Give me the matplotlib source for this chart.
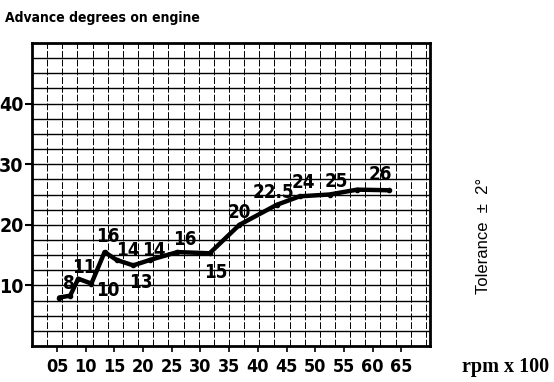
import matplotlib.pyplot as plt
import numpy as np

# Zündverstellung: Drehzahl (x 100 U/min) gegen Vorzündung in Grad
rpm = [5.4, 7.3, 8.7, 11.0, 13.3, 15.4, 18.3, 21.2, 26.0, 31.6, 36.8, 43.3, 47.3, 52.5, 57.3, 62.9]
advance = [8.0, 8.3, 11.1, 10.3, 15.5, 14.2, 13.3, 14.2, 15.5, 15.3, 20.0, 23.3, 24.7, 25.0, 25.8, 25.7]

# Beschriftete Werte und ihre Lage im Diagramm
point_labels = ['8', '11', '10', '16', '14', '13', '14', '16', '15', '20', '22.5', '24', '25', '26']
label_x = [7.0, 9.6, 13.8, 13.8, 17.3, 19.6, 21.9, 27.3, 32.7, 36.7, 42.8, 48.0, 53.6, 61.4]
label_y = [10.3, 13.0, 9.2, 18.0, 15.8, 10.5, 15.8, 17.5, 12.2, 22.0, 25.3, 27.0, 27.2, 28.3]

x_ticks = [5, 10, 15, 20, 25, 30, 35, 40, 45, 50, 55, 60, 65]
x_ticklabels = ['05', '10', '15', '20', '25', '30', '35', '40', '45', '50', '55', '60', '65']
y_ticks = [10, 20, 30, 40]

cond = dict(family='DejaVu Sans', fontstretch='condensed', fontweight='bold')

fig = plt.figure(figsize=(5.54, 3.82), dpi=100)
ax = fig.add_axes([32 / 554, 36 / 382, 398 / 554, 303 / 382])

xmin, xmax = 0.65, 70.0
ax.set_xlim(xmin, xmax)
ax.set_ylim(0, 50)

# Millimeterraster: waagrecht alle 2.5 Grad, senkrecht 26 Spalten
for yv in np.arange(2.5, 50, 2.5):
    ax.axhline(yv, color='black', lw=1.0, zorder=1)
for xv in xmin + np.arange(1, 27) * 2.64:
    ax.axvline(xv, color='black', lw=0.7, ls=(0, (7, 2)), zorder=1)

ax.plot(rpm, advance, color='black', lw=3.2, marker='o', ms=3,
        solid_joinstyle='round', solid_capstyle='round', zorder=3)

for txt, tx, ty in zip(point_labels, label_x, label_y):
    ax.text(tx, ty, txt, ha='center', va='center', fontsize=13.5, zorder=4, **cond)

ax.set_xticks(x_ticks)
ax.set_xticklabels(x_ticklabels, fontsize=13, **cond)
ax.set_yticks(y_ticks)
ax.set_yticklabels([str(v) for v in y_ticks], fontsize=14, **cond)
ax.tick_params(axis='x', length=4, width=1.2, pad=5, color='black')
ax.tick_params(axis='y', length=5, width=1.5, pad=1, color='black')

for side in ['left', 'bottom', 'top', 'right']:
    ax.spines[side].set_linewidth(2.0)

fig.text(5 / 554, 1 - 18 / 382, 'Advance degrees on engine', ha='left', va='center',
         fontsize=10, **cond)
fig.text(462 / 554, 1 - 367 / 382, 'rpm x 100', ha='left', va='center',
         fontsize=14.5, fontweight='bold', family='Liberation Serif')
fig.text(483 / 554, 1 - 236 / 382, 'Tolerance  \u00b1  2\u00b0', rotation=90,
         ha='center', va='center', fontsize=12, family='Liberation Sans')

fig.savefig('out.png', dpi=100)
